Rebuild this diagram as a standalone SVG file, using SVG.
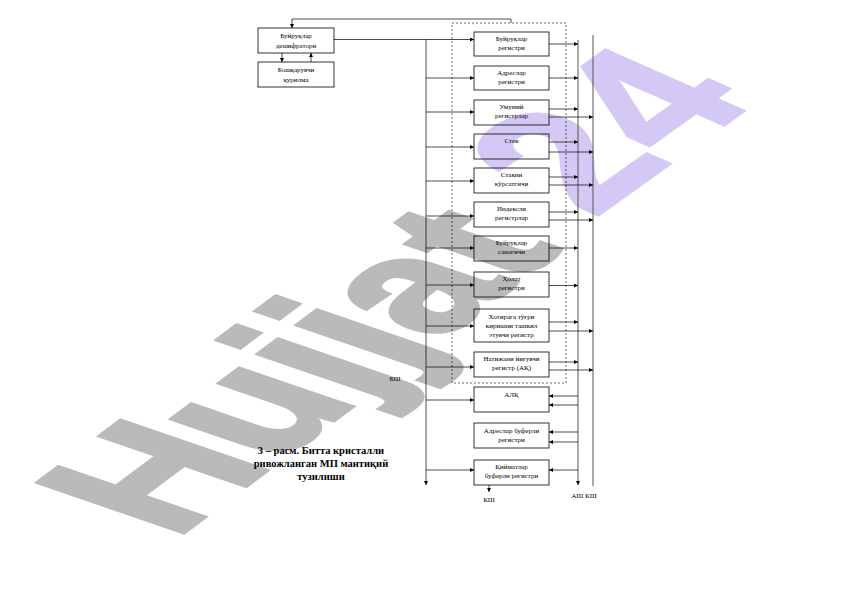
<svg xmlns="http://www.w3.org/2000/svg" width="842" height="596" viewBox="0 0 842 596">
<style>
.bx{fill:none;stroke:#000;stroke-width:0.8}
.t{font-family:"Liberation Serif","Times New Roman",serif;font-size:7px;fill:#000;text-anchor:middle}
.ln{fill:none;stroke:#000;stroke-width:0.7}
.bus{fill:none;stroke:#555;stroke-width:1}
.cap{font-family:"Liberation Serif","Times New Roman",serif;font-size:10.5px;font-weight:bold;fill:#000;text-anchor:middle}
.wm{font-family:"Liberation Sans",Arial,sans-serif;font-weight:bold;font-size:100px}
</style>
<defs>
<marker id="a" viewBox="0 0 6 6" refX="6" refY="3" markerWidth="5" markerHeight="4" markerUnits="userSpaceOnUse" orient="auto">
<path d="M0,0 L6,3 L0,6 z" fill="#000"/>
</marker>
</defs>
<rect width="842" height="596" fill="#fff"/>
<g id="watermark">
<text class="wm" fill="#bababa" stroke="#bababa" stroke-width="3" transform="matrix(1.40 -1.046 2.10 0.72 174 539)" x="0" y="0">Hujjat</text>
<text class="wm" fill="#d4c8f5" stroke="#d4c8f5" stroke-width="2" transform="matrix(1.48 -1.06 2.00 0.88 593 218.5)" x="0" y="0">24</text>
</g>
<rect x="452" y="23" width="114" height="360" fill="none" stroke="#000" stroke-width="0.6" stroke-dasharray="2,2"/>
<g id="n_dec"><rect class="bx" x="258" y="28" width="76" height="25"/><text class="t" x="296" y="37.5">Буйруқлар</text><text class="t" x="296" y="47.5">дешифратори</text></g>
<g id="n_ctrl"><rect class="bx" x="258" y="62" width="76" height="25"/><text class="t" x="296" y="71.5">Бошқарувчи</text><text class="t" x="296" y="81.5">қурилма</text></g>
<g id="n1"><rect class="bx" x="474" y="32" width="75" height="24"/><text class="t" x="511.5" y="41">Буйруқлар</text><text class="t" x="511.5" y="50">регистри</text></g>
<g id="n2"><rect class="bx" x="474" y="66" width="75" height="24"/><text class="t" x="511.5" y="75">Адреслар</text><text class="t" x="511.5" y="84">регистри</text></g>
<g id="n3"><rect class="bx" x="474" y="100" width="75" height="25"/><text class="t" x="511.5" y="109">Умумий</text><text class="t" x="511.5" y="118">регистрлар</text></g>
<g id="n4"><rect class="bx" x="474" y="134" width="75" height="25"/><text class="t" x="511.5" y="143">Стек</text></g>
<g id="n5"><rect class="bx" x="474" y="168" width="75" height="25"/><text class="t" x="511.5" y="177">Стакни</text><text class="t" x="511.5" y="186">кўрсатгичи</text></g>
<g id="n6"><rect class="bx" x="474" y="202" width="75" height="25"/><text class="t" x="511.5" y="211">Индексли</text><text class="t" x="511.5" y="220">регистрлар</text></g>
<g id="n7"><rect class="bx" x="474" y="236" width="75" height="25"/><text class="t" x="511.5" y="245">Буйруқлар</text><text class="t" x="511.5" y="254">санагичи</text></g>
<g id="n8"><rect class="bx" x="474" y="272" width="75" height="25"/><text class="t" x="511.5" y="281">Ҳолат</text><text class="t" x="511.5" y="290">регистри</text></g>
<g id="n9"><rect class="bx" x="474" y="309" width="75" height="33"/><text class="t" x="511.5" y="319">Хотирага тўғри</text><text class="t" x="511.5" y="328">киришни ташкил</text><text class="t" x="511.5" y="337">этувчи регистр</text></g>
<g id="n10"><rect class="bx" x="474" y="352" width="75" height="25"/><text class="t" x="511.5" y="361">Натижани йиғувчи</text><text class="t" x="511.5" y="370">регистр (АҚ)</text></g>
<g id="n11"><rect class="bx" x="474" y="387" width="75" height="25"/><text class="t" x="511.5" y="397">АЛҚ</text></g>
<g id="n12"><rect class="bx" x="474" y="423" width="75" height="25"/><text class="t" x="511.5" y="432.5">Адреслар буферли</text><text class="t" x="511.5" y="441.5">регистри</text></g>
<g id="n13"><rect class="bx" x="474" y="460" width="75" height="25"/><text class="t" x="511.5" y="469">Қийматлар</text><text class="t" x="511.5" y="478">буферли регистри</text></g>
<g id="connectors">
<path class="ln" d="M511,23 V19 H292 V28" marker-end="url(#a)"/>
<line class="ln" x1="282" y1="53" x2="282" y2="62" marker-end="url(#a)"/>
<line class="ln" x1="311" y1="62" x2="311" y2="53" marker-end="url(#a)"/>
<line class="ln" x1="334" y1="39.5" x2="474" y2="39.5" marker-end="url(#a)"/>
<line class="ln" x1="426" y1="39.5" x2="426" y2="485" marker-end="url(#a)"/>
<line class="ln" x1="426" y1="78" x2="474" y2="78" marker-end="url(#a)"/>
<line class="ln" x1="426" y1="112" x2="474" y2="112" marker-end="url(#a)"/>
<line class="ln" x1="426" y1="147" x2="474" y2="147" marker-end="url(#a)"/>
<line class="ln" x1="426" y1="181" x2="474" y2="181" marker-end="url(#a)"/>
<line class="ln" x1="426" y1="216" x2="474" y2="216" marker-end="url(#a)"/>
<line class="ln" x1="426" y1="248" x2="474" y2="248" marker-end="url(#a)"/>
<line class="ln" x1="426" y1="285" x2="474" y2="285" marker-end="url(#a)"/>
<line class="ln" x1="426" y1="326" x2="474" y2="326" marker-end="url(#a)"/>
<line class="ln" x1="426" y1="367" x2="474" y2="367" marker-end="url(#a)"/>
<line class="ln" x1="426" y1="400" x2="474" y2="400" marker-end="url(#a)"/>
<line class="ln" x1="426" y1="470" x2="474" y2="470" marker-end="url(#a)"/>
<line class="bus" x1="578" y1="40" x2="578" y2="485" marker-end="url(#a)"/>
<line class="bus" x1="593" y1="35" x2="593" y2="486"/>
<line class="ln" x1="549" y1="44" x2="578" y2="44" marker-end="url(#a)"/>
<line class="ln" x1="549" y1="78" x2="578" y2="78" marker-end="url(#a)"/>
<line class="ln" x1="549" y1="109" x2="578" y2="109" marker-end="url(#a)"/>
<line class="ln" x1="549" y1="117" x2="593" y2="117" marker-end="url(#a)"/>
<line class="ln" x1="549" y1="142" x2="578" y2="142" marker-end="url(#a)"/>
<line class="ln" x1="549" y1="152" x2="593" y2="152" marker-end="url(#a)"/>
<line class="ln" x1="549" y1="177" x2="578" y2="177" marker-end="url(#a)"/>
<line class="ln" x1="549" y1="185" x2="593" y2="185" marker-end="url(#a)"/>
<line class="ln" x1="549" y1="212" x2="578" y2="212" marker-end="url(#a)"/>
<line class="ln" x1="549" y1="220" x2="593" y2="220" marker-end="url(#a)"/>
<line class="ln" x1="549" y1="248" x2="578" y2="248" marker-end="url(#a)"/>
<line class="ln" x1="549" y1="285.5" x2="578" y2="285.5" marker-end="url(#a)"/>
<line class="ln" x1="549" y1="322" x2="578" y2="322" marker-end="url(#a)"/>
<line class="ln" x1="549" y1="331" x2="593" y2="331" marker-end="url(#a)"/>
<line class="ln" x1="549" y1="362" x2="578" y2="362" marker-end="url(#a)"/>
<line class="ln" x1="549" y1="370" x2="593" y2="370" marker-end="url(#a)"/>
<line class="ln" x1="578" y1="396" x2="549" y2="396" marker-end="url(#a)"/>
<line class="ln" x1="578" y1="405" x2="549" y2="405" marker-end="url(#a)"/>
<line class="ln" x1="578" y1="432" x2="549" y2="432" marker-end="url(#a)"/>
<line class="ln" x1="578" y1="442" x2="549" y2="442" marker-end="url(#a)"/>
<line class="ln" x1="578" y1="470" x2="549" y2="470" marker-end="url(#a)"/>
<line class="ln" x1="489" y1="485" x2="489" y2="492" marker-end="url(#a)"/>
</g>
<g id="labels">
<text class="t" x="395" y="380.5">БШ</text>
<text class="t" x="489" y="502">КШ</text>
<text class="t" x="584" y="498">АШ КШ</text>
</g>
<g id="caption">
<text class="cap" x="321" y="454">3 – расм. Битта кристалли</text>
<text class="cap" x="321" y="467">ривожланган МП мантиқий</text>
<text class="cap" x="321" y="480">тузилиши</text>
</g>
</svg>
